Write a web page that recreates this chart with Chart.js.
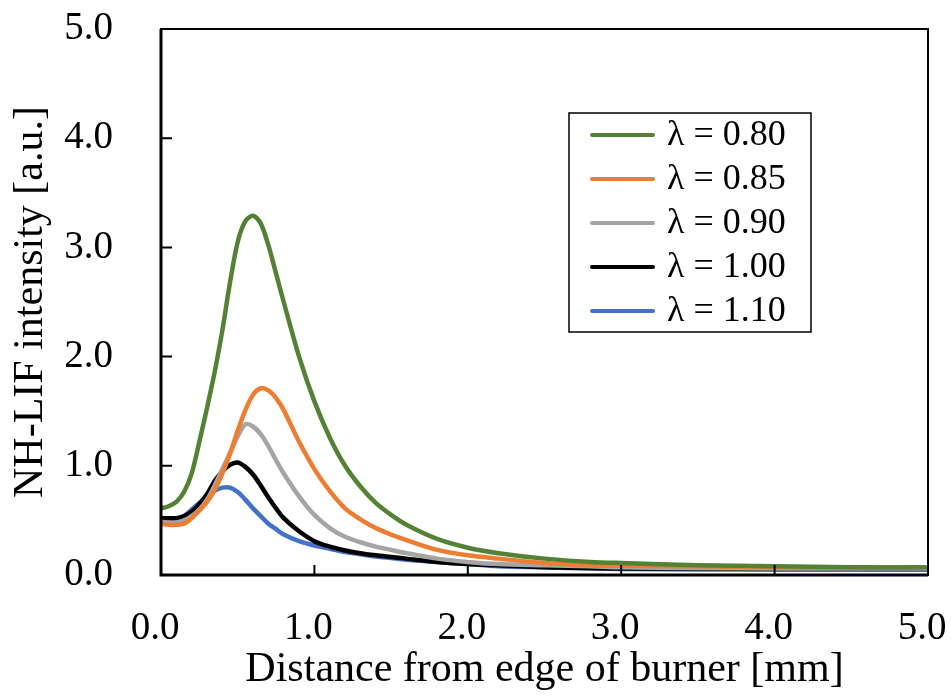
<!DOCTYPE html>
<html>
<head>
<meta charset="utf-8">
<title>NH-LIF intensity</title>
<script src="https://cdn.jsdelivr.net/npm/chart.js@4.4.1/dist/chart.umd.min.js"></script>
<style>
    html, body { margin: 0; padding: 0; background: #fff; }
    #grafico-box { width: 951px; height: 697px; }
</style>
</head>
<body>
<div id="grafico-box"><canvas id="grafico"></canvas></div>
<script>
// ================== DATOS ==================

// distancia desde el borde del quemador [mm]
const distancia = [0, 0.05, 0.1, 0.15, 0.2, 0.25, 0.3, 0.35, 0.4, 0.45, 0.5, 0.55, 0.6, 0.65, 0.7, 0.75, 0.8, 0.9,
    1.0, 1.1, 1.2, 1.3, 1.4, 1.5, 1.6, 1.8, 2.0, 2.2, 2.5, 2.8, 3.0, 3.5, 4.0, 4.5, 5.0];

// intensidad NH-LIF [a.u.] para cada lambda
const lambda080 = [0.61, 0.63, 0.67, 0.76, 0.93, 1.22, 1.53, 1.86, 2.24, 2.68, 3.05, 3.24, 3.29, 3.22, 3.02, 2.76, 2.50, 2.00,
    1.59, 1.26, 1.00, 0.81, 0.66, 0.55, 0.46, 0.33, 0.25, 0.20, 0.15, 0.12, 0.11, 0.09, 0.08, 0.07, 0.07];
const lambda085 = [0.47, 0.46, 0.46, 0.47, 0.52, 0.59, 0.67, 0.78, 0.93, 1.11, 1.32, 1.51, 1.65, 1.71, 1.69, 1.62, 1.51, 1.22,
    0.97, 0.77, 0.61, 0.51, 0.43, 0.37, 0.32, 0.23, 0.18, 0.15, 0.11, 0.09, 0.085, 0.08, 0.07, 0.07, 0.07];
const lambda090 = [0.49, 0.48, 0.48, 0.50, 0.54, 0.60, 0.69, 0.82, 0.97, 1.12, 1.27, 1.38, 1.36, 1.29, 1.18, 1.05, 0.93, 0.72,
    0.55, 0.43, 0.35, 0.30, 0.26, 0.23, 0.20, 0.15, 0.12, 0.10, 0.09, 0.08, 0.07, 0.065, 0.06, 0.06, 0.06];
const lambda100 = [0.52, 0.52, 0.52, 0.54, 0.58, 0.65, 0.74, 0.86, 0.95, 1.01, 1.03, 0.99, 0.92, 0.82, 0.71, 0.61, 0.52, 0.40,
    0.31, 0.26, 0.225, 0.20, 0.18, 0.165, 0.15, 0.12, 0.10, 0.09, 0.07, 0.065, 0.06, 0.06, 0.055, 0.055, 0.055];
const lambda110 = [0.50, 0.50, 0.51, 0.54, 0.60, 0.66, 0.72, 0.77, 0.80, 0.80, 0.76, 0.69, 0.61, 0.54, 0.47, 0.42, 0.37, 0.31,
    0.27, 0.24, 0.21, 0.19, 0.17, 0.155, 0.14, 0.12, 0.10, 0.08, 0.07, 0.06, 0.055, 0.05, 0.05, 0.05, 0.05];

const etiquetas = ['λ = 0.80', 'λ = 0.85', 'λ = 0.90', 'λ = 1.00', 'λ = 1.10'];
const series = [lambda080, lambda085, lambda090, lambda100, lambda110];
const colores = ['#548235', '#ED7D31', '#A5A5A5', '#000000', '#4472C4'];

const ticksEjes = [0, 1, 2, 3, 4, 5];

const FUENTE = '"Liberation Serif", "Times New Roman", serif';

// ================== PLUGINS ==================

// marco del área y marcas de división hacia adentro
const marcoPlugin = {
    id: 'marco',
    afterDatasetsDraw(chart) {
        const { ctx, chartArea: a, scales } = chart;
        ctx.save();
        ctx.strokeStyle = '#000';
        ctx.lineWidth = 2;
        ctx.strokeRect(a.left, a.top, a.right - a.left, a.bottom - a.top);
        ctx.lineWidth = 3;
        ctx.beginPath();
        ctx.moveTo(a.left, a.top);
        ctx.lineTo(a.left, a.bottom);
        ctx.lineTo(a.right, a.bottom);
        ctx.stroke();

        ctx.lineWidth = 2;
        ctx.beginPath();
        ticksEjes.forEach(v => {
            const y = scales.y.getPixelForValue(v);
            ctx.moveTo(a.left, y);
            ctx.lineTo(a.left + 11, y);
            const x = scales.x.getPixelForValue(v);
            ctx.moveTo(x, a.bottom);
            ctx.lineTo(x, a.bottom - 10);
        });
        ctx.stroke();
        ctx.restore();
    }
};

// leyenda dentro del área del gráfico
const leyendaPlugin = {
    id: 'leyendaCaja',
    afterDraw(chart, args, opts) {
        const ctx = chart.ctx;
        ctx.save();
        ctx.fillStyle = '#fff';
        ctx.fillRect(opts.x, opts.y, opts.w, opts.h);
        ctx.strokeStyle = '#000';
        ctx.lineWidth = 1.5;
        ctx.strokeRect(opts.x, opts.y, opts.w, opts.h);

        ctx.font = '36px ' + FUENTE;
        ctx.textBaseline = 'middle';
        chart.data.datasets.forEach((ds, i) => {
            const y = opts.y + 22 + i * 44;
            ctx.strokeStyle = ds.borderColor;
            ctx.lineWidth = 4;
            ctx.lineCap = 'round';
            ctx.beginPath();
            ctx.moveTo(opts.x + 23, y);
            ctx.lineTo(opts.x + 84, y);
            ctx.stroke();
            ctx.fillStyle = '#000';
            ctx.fillText(ds.label, opts.x + 98, y + 1);
        });
        ctx.restore();
    }
};

// ================== GRÁFICO ==================

const ctx = document.getElementById('grafico');

const grafico = new Chart(ctx, {
    type: 'line',
    data: {
        datasets: series.map((valores, i) => ({
            label: etiquetas[i],
            data: distancia.map((d, j) => ({ x: d, y: valores[j] })),
            borderColor: colores[i],
            borderWidth: 4.5,
            pointRadius: 0,
            tension: 0.3,
            fill: false
        }))
    },
    options: {
        responsive: true,
        maintainAspectRatio: false,
        animation: false,
        layout: {
            padding: { top: 29, right: 23, left: 0, bottom: 0 }
        },
        plugins: {
            legend: { display: false },
            tooltip: { enabled: false },
            leyendaCaja: { x: 569, y: 113, w: 242, h: 219 }
        },
        scales: {
            x: {
                type: 'linear',
                min: 0,
                max: 5,
                afterBuildTicks: s => { s.ticks = ticksEjes.map(v => ({ value: v })); },
                afterFit: s => {
                    s.height = 122;
                    s.paddingLeft = 0;
                    s.paddingRight = 0;
                },
                grid: { display: false, drawTicks: false },
                border: { display: false },
                ticks: {
                    padding: 30,
                    labelOffset: -6,
                    color: '#000',
                    font: { family: FUENTE, size: 39 },
                    callback: v => v.toFixed(1)
                },
                title: {
                    display: true,
                    text: 'Distance from edge of burner [mm]',
                    color: '#000',
                    font: { family: FUENTE, size: 42 },
                    padding: { top: 0, bottom: 2 }
                }
            },
            y: {
                min: 0,
                max: 5,
                afterBuildTicks: s => { s.ticks = ticksEjes.map(v => ({ value: v })); },
                afterFit: s => {
                    s.width = 161;
                    s.paddingTop = 0;
                    s.paddingBottom = 0;
                },
                grid: { display: false, drawTicks: false },
                border: { display: false },
                ticks: {
                    padding: 48,
                    color: '#000',
                    font: { family: FUENTE, size: 39 },
                    callback: v => v.toFixed(1)
                },
                title: {
                    display: true,
                    text: 'NH-LIF intensity [a.u.]',
                    color: '#000',
                    font: { family: FUENTE, size: 42 },
                    padding: { top: 6, bottom: 0 }
                }
            }
        }
    },
    plugins: [marcoPlugin, leyendaPlugin]
});
</script>
</body>
</html>
